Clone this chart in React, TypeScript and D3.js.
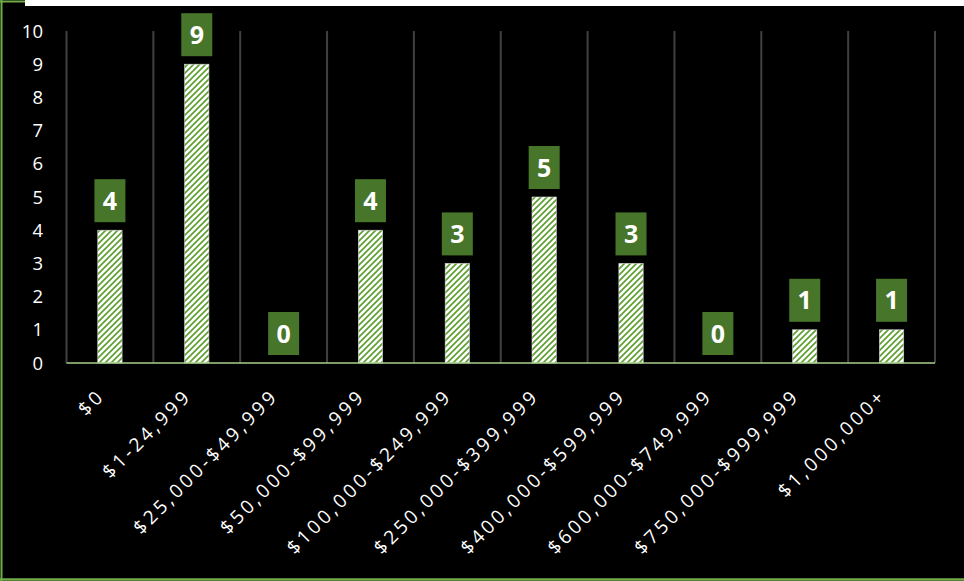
import React from "react";
import * as d3 from "d3";

const categories = [
  "$0",
  "$1-24,999",
  "$25,000-$49,999",
  "$50,000-$99,999",
  "$100,000-$249,999",
  "$250,000-$399,999",
  "$400,000-$599,999",
  "$600,000-$749,999",
  "$750,000-$999,999",
  "$1,000,000+",
];
const values = [4, 9, 0, 4, 3, 5, 3, 0, 1, 1];
const yTicks = [0, 1, 2, 3, 4, 5, 6, 7, 8, 9, 10];

const W = 964;
const H = 581;
const FONT = "'Open Sans', 'DejaVu Sans', sans-serif";
const GREEN = "#47752A";

export default function App() {
  const x = d3
    .scaleBand<string>()
    .domain(categories)
    .range([66.5, 935])
    .paddingInner(0.72)
    .paddingOuter(0.36);
  const y = d3.scaleLinear().domain([0, 10]).range([363, 31]);
  const step = x.step();
  const bounds = d3.range(categories.length + 1).map((i) => 66.5 + i * step);

  return (
    <svg
      width={W}
      height={H}
      style={{ position: "absolute", left: 0, top: 0, display: "block" }}
    >
      <defs>
        <pattern id="diag" patternUnits="userSpaceOnUse" width={6} height={6}>
          <rect width={6} height={6} fill="#ffffff" />
          <path
            d="M-1,1 l2,-2 M0,6 l6,-6 M5,7 l2,-2"
            stroke="#5fa032"
            strokeWidth={1.7}
          />
        </pattern>
      </defs>
      <rect x={0} y={0} width={W} height={H} fill="#000" />
      <rect x={25} y={0} width={W - 25} height={6} fill="#fff" />
      <line x1={1.5} x2={1.5} y1={0} y2={H} stroke="#70ad47" strokeWidth={2} />
      <line x1={0} x2={25} y1={1.5} y2={1.5} stroke="#70ad47" strokeWidth={2} />
      <line x1={0} x2={W} y1={579.5} y2={579.5} stroke="#70ad47" strokeWidth={2.5} />

      {bounds.map((b, i) => (
        <line
          key={"g" + i}
          x1={b}
          x2={b}
          y1={y(10)}
          y2={y(0)}
          stroke="#404040"
          strokeWidth={2}
        />
      ))}

      {yTicks.map((t) => (
        <text
          key={"y" + t}
          x={43}
          y={y(t)}
          dy="0.36em"
          textAnchor="end"
          fill="#fff"
          fontFamily={FONT}
          fontSize={18.5}
        >
          {t}
        </text>
      ))}

      {categories.map((c, i) => {
        const bx = x(c) as number;
        const bw = x.bandwidth();
        const v = values[i];
        const cx = bx + bw / 2;
        return (
          <g key={"b" + i}>
            {v > 0 && (
              <rect
                x={bx}
                y={y(v)}
                width={bw}
                height={y(0) - y(v)}
                fill="url(#diag)"
                stroke="#d9d9d9"
                strokeWidth={0.6}
              />
            )}
            <rect
              x={cx - 15.5}
              y={y(v) - 8 - 43}
              width={31}
              height={43}
              fill={GREEN}
            />
            <text
              x={cx}
              y={y(v) - 8 - 21.5}
              dy="0.36em"
              textAnchor="middle"
              fill="#fff"
              fontFamily={FONT}
              fontWeight="bold"
              fontSize={25}
            >
              {v}
            </text>
          </g>
        );
      })}

      <line x1={66.5} x2={935} y1={y(0)} y2={y(0)} stroke="#a9d18e" strokeWidth={1.5} />

      {categories.map((c, i) => {
        const cx = (x(c) as number) + x.bandwidth() / 2;
        return (
          <text
            key={"xl" + i}
            transform={`translate(${cx - 4},${397}) rotate(-45)`}
            textAnchor="end"
            fill="#fff"
            fontFamily={FONT}
            fontSize={19}
            letterSpacing={3.3}
          >
            {c}
          </text>
        );
      })}
    </svg>
  );
}
